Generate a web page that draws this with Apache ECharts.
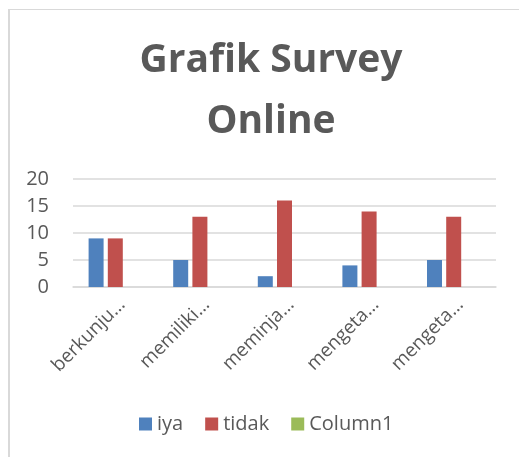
<!DOCTYPE html>
<html>
<head>
<meta charset="utf-8">
<script src="https://cdn.jsdelivr.net/npm/echarts@6/dist/echarts.min.js"></script>
<style>
    html, body { margin: 0; padding: 0; background: #fff; }
    #frame {
        position: absolute; left: 8px; top: 9px; right: 0; bottom: 0;
        border-top: 1px solid #d9d9d9; border-left: 2px solid #d9d9d9;
    }
    #chart { position: absolute; left: 0; top: 0; width: 519px; height: 457px; }
</style>
</head>
<body>
<div id="frame"></div>
<div id="chart"></div>
<script>
// kategori (label terpotong seperti di gambar asli)
const categories = ['berkunju…', 'memiliki…', 'meminja…', 'mengeta…', 'mengeta…'];
const iyaData = [9, 5, 2, 4, 5];
const tidakData = [9, 13, 16, 14, 13];
const column1Data = [null, null, null, null, null];
const yTicks = [0, 5, 10, 15, 20];

const chart = echarts.init(document.getElementById('chart'));

const option = {
    backgroundColor: 'transparent',
    textStyle: { fontFamily: 'Open Sans' },
    title: {
        text: 'Grafik Survey\nOnline',
        left: 266,
        top: 25,
        textAlign: 'center',
        textStyle: {
            fontFamily: 'Open Sans',
            fontWeight: 'bold',
            fontSize: 39,
            lineHeight: 61,
            color: '#595959'
        }
    },
    legend: {
        data: ['iya', 'tidak', 'Column1'],
        left: 139,
        top: 414,
        padding: 0,
        icon: 'rect',
        itemWidth: 13,
        itemHeight: 13,
        itemGap: 22,
        textStyle: { fontSize: 20, color: '#595959' }
    },
    grid: {
        left: 73,
        right: 23,
        top: 179,
        bottom: 170,
        containLabel: false
    },
    xAxis: {
        type: 'category',
        data: categories,
        axisLine: { lineStyle: { color: '#d9d9d9', width: 1.5 } },
        axisTick: { show: false },
        axisLabel: {
            rotate: 45,
            fontSize: 19,
            color: '#595959',
            margin: 8,
            verticalAlign: 'top',
            interval: 0
        }
    },
    yAxis: {
        type: 'value',
        min: yTicks[0],
        max: yTicks[yTicks.length - 1],
        interval: 5,
        axisLine: { show: false },
        axisTick: { show: false },
        splitLine: { lineStyle: { color: '#d9d9d9', width: 1.5 } },
        axisLabel: { fontSize: 20, color: '#595959', margin: 24 }
    },
    series: [
        {
            name: 'iya',
            type: 'bar',
            data: iyaData,
            barWidth: 15,
            barGap: '28%',
            itemStyle: { color: '#4f81bd' }
        },
        {
            name: 'tidak',
            type: 'bar',
            data: tidakData,
            barWidth: 15,
            barGap: '28%',
            itemStyle: { color: '#c0504d' }
        },
        {
            name: 'Column1',
            type: 'bar',
            data: column1Data,
            barWidth: 15,
            barGap: '28%',
            itemStyle: { color: '#9bbb59' }
        }
    ]
};

chart.setOption(option);
</script>
</body>
</html>
